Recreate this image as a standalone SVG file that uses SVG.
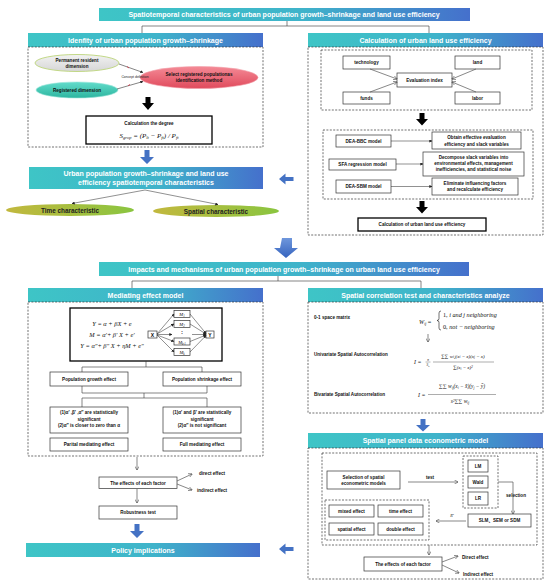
<svg xmlns="http://www.w3.org/2000/svg" width="550" height="585" viewBox="0 0 550 585">
<defs>
<linearGradient id="g" x1="0" y1="0" x2="1" y2="0">
<stop offset="0" stop-color="#3ec5c6"/><stop offset="0.55" stop-color="#3fb3ca"/><stop offset="1" stop-color="#4570cc"/>
</linearGradient>
<linearGradient id="gBlue" x1="0" y1="0" x2="0" y2="1">
<stop offset="0" stop-color="#6f97dc"/><stop offset="1" stop-color="#3563be"/>
</linearGradient>
<linearGradient id="gGray" x1="0" y1="0" x2="0" y2="1">
<stop offset="0" stop-color="#f2f2f2"/><stop offset="1" stop-color="#d6d6d6"/>
</linearGradient>
<linearGradient id="gTeal" x1="0" y1="0" x2="0" y2="1">
<stop offset="0" stop-color="#62dccb"/><stop offset="1" stop-color="#2db59f"/>
</linearGradient>
<linearGradient id="gRed" x1="0" y1="0" x2="0" y2="1">
<stop offset="0" stop-color="#f48a96"/><stop offset="1" stop-color="#e04a5c"/>
</linearGradient>
<linearGradient id="gOlive" x1="0" y1="0" x2="1" y2="0">
<stop offset="0" stop-color="#c2b83e"/><stop offset="1" stop-color="#8ac540"/>
</linearGradient>
<marker id="ah" viewBox="0 0 10 10" refX="9" refY="5" markerWidth="4" markerHeight="4" orient="auto" markerUnits="userSpaceOnUse">
<path d="M0,0 L10,5 L0,10" fill="none" stroke="#444" stroke-width="1.4"/>
</marker>
<marker id="af" viewBox="0 0 10 10" refX="9" refY="5" markerWidth="3" markerHeight="3" orient="auto" markerUnits="userSpaceOnUse">
<path d="M0,0 L10,5 L0,10 z" fill="#222"/>
</marker>
</defs>
<style>
text{font-family:"Liberation Sans",Arial,"Noto Sans CJK SC",sans-serif}
.c{text-anchor:middle}
.hd{fill:#fff;font-size:7px;font-weight:bold;text-anchor:middle}
.bx{fill:#fff;stroke:#333;stroke-width:0.7}
.bk{fill:#fff;stroke:#000;stroke-width:1.3}
.ds{fill:none;stroke:#333;stroke-width:0.7;stroke-dasharray:2 1.4}
.s{font-size:4.6px;fill:#111;font-weight:bold;text-anchor:middle}
.l{font-size:4.6px;fill:#111;font-weight:bold}
.ln{fill:none;stroke:#333;stroke-width:0.6}
.ga{fill:none;stroke:#555;stroke-width:0.7;marker-end:url(#ah)}
.fa{fill:none;stroke:#222;stroke-width:0.5;marker-end:url(#af)}
.m{font-family:"Liberation Serif","Times New Roman",serif;font-style:italic;fill:#111}
.blue{fill:#4472c4}
</style>
<rect width="550" height="585" fill="#fff"/>

<!-- title bars -->
<g id="title1">
<rect x="99" y="8" width="371" height="13" fill="url(#g)"/>
<text class="hd" x="284" y="17.3">Spatiotemporal characteristics of urban population growth–shrinkage and land use efficiency</text>
</g>
<g id="title2">
<rect x="99" y="262" width="370" height="14" fill="url(#g)"/>
<text class="hd" x="284" y="271.8">Impacts and mechanisms of urban  population growth–shrinkage on urban land use efficiency</text>
</g>

<!-- Identify section -->
<g id="identify">
<rect x="28" y="33" width="235" height="14" fill="url(#g)"/>
<text class="hd" x="145.5" y="42.8">Idenfity of urban population growth–shrinkage</text>
<rect class="ds" x="28" y="47" width="235" height="100"/>
</g>
<g id="permanent">
<ellipse cx="77" cy="63" rx="42" ry="8.5" fill="url(#gGray)" stroke="#bcd57a" stroke-width="0.9"/>
<text class="s" x="77" y="61.8">Permanent resident</text>
<text class="s" x="77" y="67.5">dimension</text>
</g>
<g id="registered">
<ellipse cx="77" cy="90" rx="41" ry="8" fill="url(#gTeal)" stroke="#9ee6da" stroke-width="0.6"/>
<text class="s" x="77" y="91.8">Registered dimension</text>
</g>
<g id="select">
<ellipse cx="199" cy="77.5" rx="59" ry="11" fill="url(#gRed)" stroke="#f2a0aa" stroke-width="0.6"/>
<text class="s" x="199" y="75.8">Select registered populationas</text>
<text class="s" x="199" y="81.5">identification method</text>
</g>
<text x="135" y="77.5" class="c" font-family="Liberation Serif,serif" font-size="3.4" fill="#222">Concept definition</text>
<path d="M145.5,97 h5 v6 h3.5 l-6,7 l-6,-7 h3.5 z" fill="#000"/>
<g id="degree">
<rect class="bk" x="86" y="116" width="126" height="28"/>
<text class="s" x="149" y="124.5">Calculation the degree</text>
<text class="m c" x="149" y="137.5" font-size="7">S<tspan font-size="4.5" dy="1.5">grop</tspan><tspan dy="-1.5"> = (</tspan>P<tspan font-size="4.5" dy="1.5">lt</tspan><tspan dy="-1.5"> − </tspan>P<tspan font-size="4.5" dy="1.5">ft</tspan><tspan dy="-1.5">) / </tspan>P<tspan font-size="4.5" dy="1.5">ft</tspan></text>
</g>
<path class="blue" d="M144.5,150 h5 v7 h4.5 l-7,7 l-7,-7 h4.5 z"/>
<g id="characteristics">
<rect x="29" y="167" width="234" height="22" fill="url(#g)"/>
<text class="hd" x="146" y="176" font-size="7.3">Urban population growth–shrinkage and land use</text>
<text class="hd" x="146" y="185" font-size="7.3">efficiency spatiotemporal characteristics</text>
</g>
<g id="time">
<ellipse cx="70" cy="210" rx="64" ry="6" fill="url(#gOlive)"/>
<text x="70" y="212.5" class="c" font-size="6.4" font-weight="bold" fill="#222">Time characteristic</text>
</g>
<g id="spatial">
<ellipse cx="216" cy="211" rx="63" ry="6" fill="url(#gOlive)"/>
<text x="216" y="213.5" class="c" font-size="6.4" font-weight="bold" fill="#222">Spatial characteristic</text>
</g>

<!-- Calculation section -->
<g id="calc">
<rect x="308" y="33" width="235" height="14" fill="url(#g)"/>
<text class="hd" x="425.5" y="42.8">Calculation of urban land use efficiency</text>
<rect class="ds" x="308" y="47" width="235" height="188"/>
<rect class="ds" x="321" y="50" width="211" height="60"/>
<rect class="ds" x="323" y="130" width="210" height="69"/>
</g>
<g id="technology"><rect class="bx" x="343" y="56" width="47" height="13"/><text class="s" x="366.5" y="64.2">technology</text></g>
<g id="land"><rect class="bx" x="455" y="56" width="45" height="13"/><text class="s" x="477.5" y="64.2">land</text></g>
<g id="funds"><rect class="bx" x="343" y="92" width="47" height="12"/><text class="s" x="366.5" y="99.8">funds</text></g>
<g id="labor"><rect class="bx" x="455" y="92" width="45" height="12"/><text class="s" x="477.5" y="99.8">labor</text></g>
<g id="evalindex"><rect class="bx" x="397" y="73" width="55" height="14"/><text class="s" x="424.5" y="81.6">Evaluation index</text></g>
<path d="M419.5,113 h5 v6 h3.5 l-6,6.5 l-6,-6.5 h3.5 z" fill="#000"/>
<g id="deabbc"><rect class="bx" x="336" y="135" width="55" height="12"/><text class="s" x="363.5" y="142.8">DEA-BBC model</text></g>
<g id="obtain"><rect class="bx" x="432" y="132" width="89" height="17"/><text class="s" x="476.5" y="139">Obtain effective evaluation</text><text class="s" x="476.5" y="145.5">efficiency and slack variables</text></g>
<g id="sfa"><rect class="bx" x="329" y="159" width="67" height="11"/><text class="s" x="362.5" y="166.2">SFA regression model</text></g>
<g id="decompose"><rect class="bx" x="423" y="152" width="101" height="24"/><text class="s" x="473.5" y="158.6">Decompose slack variables into</text><text class="s" x="473.5" y="164.8">environmental effects, management</text><text class="s" x="473.5" y="171">inefficiencies, and statistical noise</text></g>
<g id="deasbm"><rect class="bx" x="336" y="180" width="55" height="13"/><text class="s" x="363.5" y="188.2">DEA-SBM model</text></g>
<g id="eliminate"><rect class="bx" x="432" y="178" width="86" height="17"/><text class="s" x="475" y="185">Eliminate influencing factors</text><text class="s" x="475" y="191.4">and recalculate efficiency</text></g>
<path d="M419.5,201 h5 v6 h3.5 l-6,6.5 l-6,-6.5 h3.5 z" fill="#000"/>
<g id="calcresult"><rect class="bk" x="358" y="218" width="128" height="13"/><text class="s" x="422" y="226.3" font-size="4.4">Calculation of urban land use efficiency</text></g>
<path class="blue" d="M279,179 l6.5,-5.5 v3.5 h8 v4 h-8 v3.5 z"/>

<!-- big arrow -->
<path d="M282,238 h10 v10 h6 l-12,10 l-12,-10 h6 z" fill="url(#gBlue)"/>

<!-- Mediating section -->
<g id="mediating">
<rect x="28" y="288" width="235" height="14" fill="url(#g)"/>
<text class="hd" x="145.5" y="297.8">Mediating effect model</text>
<rect class="ds" x="28" y="302" width="235" height="154"/>
</g>
<g id="formulabox">
<rect class="bk" x="70" y="308" width="152" height="53"/>
<text class="m c" x="112" y="326" font-size="6.4">Y = α + βX + e</text>
<text class="m c" x="112" y="336.5" font-size="6.4">M = α′+ β′ X + e′</text>
<text class="m c" x="112" y="348" font-size="6.4">Y = α″+ β″ X + ηM + e″</text>
<rect class="bx" x="148" y="331" width="9" height="7"/><text x="152.5" y="336.6" class="c" font-size="5" font-weight="bold">X</text>
<rect class="bx" x="206" y="331" width="8" height="7"/><text x="210" y="336.6" class="c" font-size="5" font-weight="bold">Y</text>
<rect class="bx" x="174" y="310.5" width="16" height="7"/><text x="182" y="316" class="c m" font-size="4.6">M<tspan font-size="3" dy="1">1</tspan></text>
<rect class="bx" x="174" y="320.5" width="16" height="7"/><text x="182" y="326" class="c m" font-size="4.6">M<tspan font-size="3" dy="1">2</tspan></text>
<text x="182" y="333.5" class="c" font-size="6" font-weight="bold">:</text>
<rect class="bx" x="174" y="338" width="16" height="7"/><text x="182" y="343.5" class="c m" font-size="4.6">M<tspan font-size="3" dy="1">k-1</tspan></text>
<rect class="bx" x="174" y="348.5" width="16" height="7"/><text x="182" y="354" class="c m" font-size="4.6">M<tspan font-size="3" dy="1">k</tspan></text>
</g>
<g id="growth"><rect class="bx" x="50" y="372" width="78" height="14"/><text class="s" x="89" y="380.8">Population growth effect</text></g>
<g id="shrinkage"><rect class="bx" x="163" y="372" width="78" height="14"/><text class="s" x="202" y="380.8">Population shrinkage effect</text></g>
<g id="cond1"><rect class="bx" x="50" y="407" width="78" height="26"/>
<text class="s" x="89" y="414.2">(1)α′ ,β′ ,α″  are statistically</text>
<text class="s" x="89" y="420.6">significant</text>
<text class="s" x="89" y="427">(2)α″  is closer to zero than α</text></g>
<g id="cond2"><rect class="bx" x="163" y="407" width="78" height="26"/>
<text class="s" x="202" y="414.2">(1)α′  and β′  are statistically</text>
<text class="s" x="202" y="420.6">significant</text>
<text class="s" x="202" y="427">(2)α″  is not significant</text></g>
<g id="partial"><rect class="bx" x="50" y="438" width="78" height="13"/><text class="s" x="89" y="446.4">Parital mediating effect</text></g>
<g id="full"><rect class="bx" x="163" y="438" width="78" height="13"/><text class="s" x="202" y="446.4">Full mediating effect</text></g>
<g id="effects1"><rect class="bx" x="99" y="477" width="78" height="11.5"/><text class="s" x="138" y="484.5">The effects of each factor</text></g>
<text class="l" x="199" y="475">direct effect</text>
<text class="l" x="197" y="492">indirect effect</text>
<g id="robust"><rect class="bx" x="99" y="506" width="78" height="13"/><text class="s" x="138" y="514.3">Robustness test</text></g>
<path class="blue" d="M134.5,524 h5 v7 h4.5 l-7,7 l-7,-7 h4.5 z"/>
<g id="policy"><rect x="26" y="543" width="234" height="14" fill="url(#g)"/><text class="hd" x="143" y="553" font-size="7.5">Policy implications</text></g>

<!-- Spatial correlation section -->
<g id="spatialcorr">
<rect x="308" y="288" width="235" height="14" fill="url(#g)"/>
<text class="hd" x="425.5" y="297.8">Spatial correlation test and characteristics analyze</text>
<rect class="ds" x="308" y="302" width="235" height="111"/>
<text class="l" x="314" y="318.5" font-size="3.8">0-1 space matrix</text>
<text class="m" x="419" y="323.5" font-size="6.2">W<tspan font-size="3.8" dy="1.4">ij</tspan><tspan dy="-1.4" font-style="normal"> =</tspan></text>
<path d="M441,311 q-2,0 -2,2 v5.5 q0,2 -2,2 q2,0 2,2 v5.5 q0,2 2,2" fill="none" stroke="#111" stroke-width="0.6"/>
<text class="m" x="443" y="317" font-size="6.2"><tspan font-style="normal">1,</tspan>      i  and  j  neighboring</text>
<text class="m" x="443" y="328.5" font-size="6.2"><tspan font-style="normal">0,</tspan>      not − neighboring</text>
<text class="l" x="314" y="355.5" font-size="3.8">Univariate Spatial Autocorrelation</text>
<text class="m" x="414" y="364" font-size="5.8">I = </text>
<text class="m c" x="428" y="360.8" font-size="3.4">n</text>
<line x1="425.5" y1="362" x2="430.5" y2="362" stroke="#111" stroke-width="0.3"/>
<text class="m c" x="428" y="366.2" font-size="3.4">S<tspan font-size="2.3" dy="0.6">0</tspan></text>
<text class="m c" x="463" y="357.5" font-size="5">∑∑ w<tspan font-size="3.2" dy="0.8">i,j</tspan><tspan dy="-0.8">(x</tspan><tspan font-size="3.2" dy="0.8">i</tspan><tspan dy="-0.8"> − x̄)(x</tspan><tspan font-size="3.2" dy="0.8">j</tspan><tspan dy="-0.8"> − x̄)</tspan></text>
<line x1="433" y1="362" x2="494" y2="362" stroke="#111" stroke-width="0.35"/>
<text class="m c" x="463" y="369" font-size="5">∑(x<tspan font-size="3.2" dy="0.8">i</tspan><tspan dy="-0.8"> − x̄)</tspan><tspan font-size="3.2" dy="-1.2">2</tspan></text>
<text class="l" x="314" y="395.5" font-size="3.8">Bivariate Spatial Autocorrelation</text>
<text class="m" x="418" y="396.5" font-size="5.8">I = </text>
<text class="m c" x="462" y="388" font-size="5.4">∑∑ w<tspan font-size="3.4" dy="0.8">ij</tspan><tspan dy="-0.8">(x</tspan><tspan font-size="3.4" dy="0.8">i</tspan><tspan dy="-0.8"> − x̄)(y</tspan><tspan font-size="3.4" dy="0.8">j</tspan><tspan dy="-0.8"> − ȳ)</tspan></text>
<line x1="428" y1="394.5" x2="496" y2="394.5" stroke="#111" stroke-width="0.35"/>
<text class="m c" x="460" y="403" font-size="5.4">s<tspan font-size="3.4" dy="-1.4">2</tspan><tspan dy="1.4">∑∑ w</tspan><tspan font-size="3.4" dy="0.8">ij</tspan></text>
</g>
<path class="blue" d="M420.5,419 h5 v6 h4.5 l-7,6.5 l-7,-6.5 h4.5 z"/>

<!-- Spatial panel section -->
<g id="spatialpanel">
<rect x="308" y="433" width="235" height="15" fill="url(#g)"/>
<text class="hd" x="425.5" y="443.3">Spatial panel data econometric model</text>
<rect class="ds" x="308" y="448" width="235" height="131"/>
<rect class="ds" x="322" y="453" width="215" height="92"/>
<rect class="ds" x="463" y="456" width="35" height="52"/>
<rect class="ds" x="325" y="500" width="104" height="40"/>
</g>
<g id="selection"><rect class="bx" x="327" y="471" width="73" height="18"/><text class="s" x="363.5" y="478.6">Selection of spatial</text><text class="s" x="363.5" y="485">econometric models</text></g>
<text class="s" x="430" y="479">test</text>
<g id="lm"><rect class="bx" x="468" y="460" width="20" height="12"/><text class="s" x="478" y="467.7">LM</text></g>
<g id="wald"><rect class="bx" x="468" y="476" width="20" height="12"/><text class="s" x="478" y="483.7">Wald</text></g>
<g id="lr"><rect class="bx" x="468" y="492" width="20" height="13"/><text class="s" x="478" y="500.2">LR</text></g>
<text class="s" x="516" y="496.8">selection</text>
<g id="slm"><rect class="bx" x="468" y="514" width="63" height="13"/><text class="s" x="499.5" y="522.4">SLM、SEM or SDM</text></g>
<text class="m c" x="452" y="516.5" font-size="4">R<tspan font-size="2.6" dy="-1.4">2</tspan></text>
<g id="mixed"><rect class="bx" x="329" y="505" width="45" height="12"/><text class="s" x="351.5" y="512.7">mixed effect</text></g>
<g id="timeeff"><rect class="bx" x="378" y="505" width="45" height="12"/><text class="s" x="400.5" y="512.7">time effect</text></g>
<g id="spatialeff"><rect class="bx" x="329" y="523" width="45" height="12"/><text class="s" x="351.5" y="530.7">spatial effect</text></g>
<g id="doubleeff"><rect class="bx" x="378" y="523" width="45" height="12"/><text class="s" x="400.5" y="530.7">double effect</text></g>
<g id="effects2"><rect class="bx" x="364" y="557" width="78" height="14"/><text class="s" x="403" y="565.8">The effects of each factor</text></g>
<text class="l" x="462" y="558.5">Direct effect</text>
<text class="l" x="463" y="576">Indirect effect</text>
<path class="blue" d="M279,549 l6.5,-5.5 v3.5 h8 v4 h-8 v3.5 z"/>

<!-- connectors -->
<g id="connectors">
<path class="ln" d="M287,21 V26 M142,26 H429 M142,26 V33 M429,26 V33"/>
<path class="ln" d="M278,276 V281 M132,281 H421 M132,281 V288 M421,281 V288"/>
<line x1="119" y1="64" x2="143" y2="72.5" stroke="#333" stroke-width="0.6" marker-end="url(#af)"/>
<line x1="117" y1="89" x2="143" y2="81.5" stroke="#333" stroke-width="0.6" marker-end="url(#af)"/>
<path d="M127,66.5 l2,1.5 M128,85.8 l2,-1.4" stroke="#d03040" stroke-width="0.8"/>
<line class="fa" x1="145" y1="190" x2="72" y2="203.5"/>
<line class="fa" x1="145" y1="190" x2="218" y2="204.5"/>
<line class="ga" x1="370" y1="69" x2="397" y2="79"/>
<line class="ga" x1="370" y1="92" x2="397" y2="82"/>
<line class="ga" x1="476" y1="69" x2="452" y2="79"/>
<line class="ga" x1="476" y1="92" x2="452" y2="82"/>
<line class="fa" x1="391" y1="141" x2="432" y2="141"/>
<line class="fa" x1="396" y1="164" x2="423" y2="164"/>
<line class="fa" x1="391" y1="186.5" x2="432" y2="186.5"/>
<path class="ln" d="M146,361 V367 M82,367 H202 M82,367 V372 M202,367 V372"/>
<path class="ln" d="M82,386 V393 M207,386 V393 M82,393 H207 M144,393 V398 M82,398 H207 M82,398 V407 M207,398 V407"/>
<line class="ga" x1="137" y1="457" x2="137" y2="470"/>
<line class="ga" x1="177" y1="481" x2="192" y2="474"/>
<line class="ga" x1="177" y1="484" x2="192" y2="490"/>
<line class="ga" x1="137" y1="489" x2="137" y2="503"/>
<line class="ga" x1="428" y1="334" x2="428" y2="342"/>
<line class="ga" x1="408" y1="482" x2="458" y2="482"/>
<path class="ga" d="M498,482 H513 V514"/>
<line class="ga" x1="466" y1="521" x2="436" y2="521"/>
<line class="ga" x1="429" y1="545" x2="429" y2="555"/>
<line class="ga" x1="442" y1="562" x2="458" y2="556"/>
<line class="ga" x1="442" y1="565" x2="459" y2="573"/>
<line class="fa" x1="157" y1="334.5" x2="172" y2="334.5"/>
<line class="fa" x1="192" y1="334.5" x2="206" y2="334.5"/>
<line class="fa" x1="157" y1="334" x2="174" y2="314"/>
<line class="fa" x1="157" y1="334" x2="174" y2="324"/>
<line class="fa" x1="157" y1="335" x2="174" y2="341.5"/>
<line class="fa" x1="157" y1="335" x2="174" y2="352"/>
<line class="fa" x1="190" y1="314" x2="206" y2="333.5"/>
<line class="fa" x1="190" y1="324" x2="206" y2="334"/>
<line class="fa" x1="190" y1="341.5" x2="206" y2="335"/>
<line class="fa" x1="190" y1="352" x2="206" y2="335.5"/>
</g>
</svg>
